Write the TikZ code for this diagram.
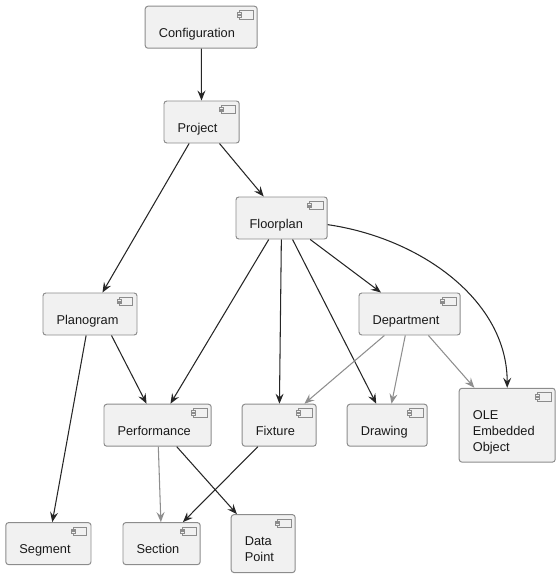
\documentclass[tikz,border=0pt]{standalone}
\usepackage{fontspec}
\setmainfont{Liberation Sans}
\usepackage{xcolor}
\usetikzlibrary{arrows.meta,calc}
\definecolor{boxfill}{HTML}{F1F1F1}
\definecolor{boxline}{HTML}{8C8C8C}
\definecolor{linkdark}{HTML}{262626}
\definecolor{linkgrey}{HTML}{8E8E8E}

\begin{document}
\begin{tikzpicture}[
  comp/.style={draw=boxline, fill=boxfill, line width=0.7pt, rounded corners=0.07cm, align=left, text width=#1, inner xsep=0.34cm, inner ysep=0pt, text=black!90,
    font=\fontsize{9.1}{11.34}\selectfont,
    execute at begin node={\rule{0pt}{0.775cm}},
    execute at end node={\rule[-0.275cm]{0pt}{0.275cm}}},
  icon/.style={draw=boxline, fill=boxfill, line width=0.5pt},
  arrow/.style={-{Stealth[length=0.25cm, width=0.2cm, inset=0.09cm]}, line width=0.75pt, draw=linkdark},
  greyarrow/.style={-{Stealth[length=0.25cm, width=0.2cm, inset=0.09cm]}, line width=0.75pt, draw=linkgrey}
]
  \useasboundingbox (0,0) rectangle (14,-14.45);

  \node[comp=2.12cm] (cfg) at (5.03,-0.68)  {Configuration};
  \node[comp=1.2cm]  (prj) at (5.04,-3.05)  {Project};
  \node[comp=1.6cm]  (flp) at (7.04,-5.45)  {Floorplan};
  \node[comp=1.67cm] (pln) at (2.25,-7.85)  {Planogram};
  \node[comp=1.85cm] (dpt) at (10.24,-7.85) {Department};
  \node[comp=2cm]    (prf) at (3.94,-10.63) {Performance};
  \node[comp=1.17cm] (fix) at (6.98,-10.63) {Fixture};
  \node[comp=1.32cm] (drw) at (9.68,-10.63) {Drawing};
  \node[comp=1.72cm] (ole) at (12.68,-10.63){OLE\\Embedded\\Object};
  \node[comp=1.45cm] (seg) at (1.21,-13.59) {Segment};
  \node[comp=1.25cm] (sec) at (4.04,-13.59) {Section};
  \node[comp=0.92cm] (dat) at (6.58,-13.59) {Data\\Point};

  \foreach \n in {cfg,prj,flp,pln,dpt,prf,fix,drw,ole,seg,sec,dat} {
    \draw[icon] ($(\n.north east)+(-0.46,-0.12)$) rectangle ($(\n.north east)+(-0.12,-0.33)$);
    \draw[icon] ($(\n.north east)+(-0.5,-0.17)$) rectangle ($(\n.north east)+(-0.41,-0.21)$);
    \draw[icon] ($(\n.north east)+(-0.5,-0.24)$) rectangle ($(\n.north east)+(-0.41,-0.28)$);
  }

  \foreach \i/\j in {cfg/prj,prj/pln,prj/flp,flp/prf,flp/fix,flp/drw,flp/dpt,pln/seg,prf/dat,fix/sec} \draw[arrow] (\i) -- (\j);
  \foreach \i/\j in {dpt/fix,dpt/drw,dpt/ole,prf/sec} \draw[greyarrow] (\i) -- (\j);
  \draw[arrow] (pln.-45) -- (prf);
  \draw[arrow] (flp) .. controls (10.5,-5.95) and (12.68,-7.5) .. (ole);
\end{tikzpicture}
\end{document}
